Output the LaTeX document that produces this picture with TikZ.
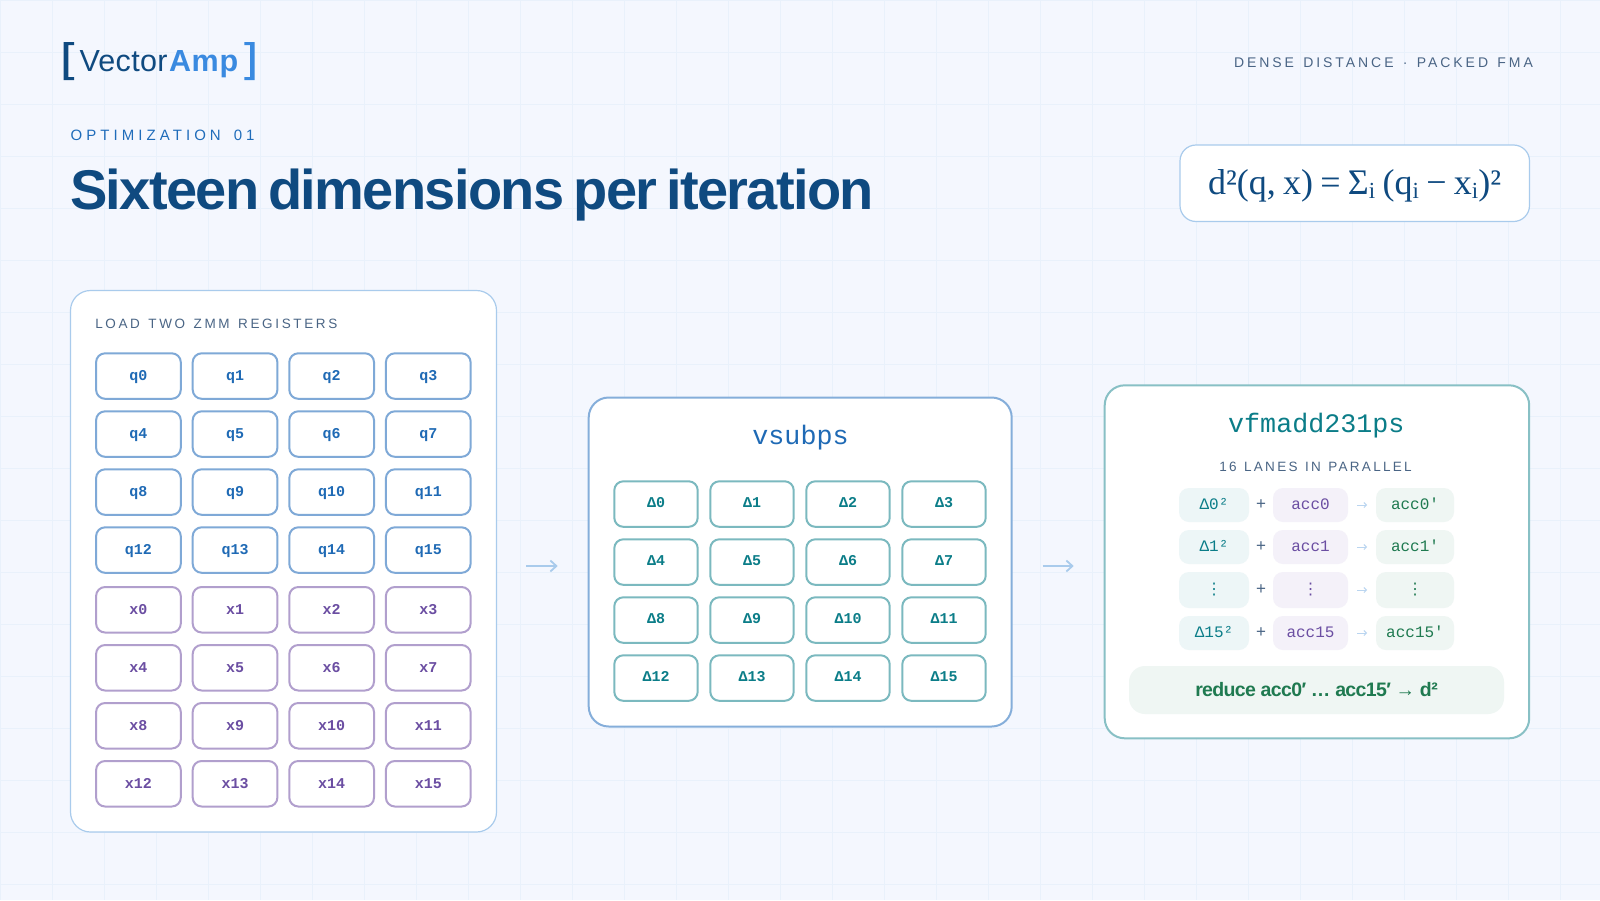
\documentclass[tikz,border=0pt]{standalone}
\usepackage{fontspec}
\usetikzlibrary{arrows.meta,calc}
\setmainfont{Liberation Sans}
\setmonofont{Liberation Mono}
\newfontfamily\serifface{Liberation Serif}
\newfontfamily\dotface{DejaVu Sans}
\definecolor{bgc}{HTML}{F4F7FE}
\definecolor{gridc}{HTML}{E9F1FB}
\definecolor{navy}{HTML}{0F4A80}
\definecolor{azure}{HTML}{3A8AE0}
\definecolor{kicker}{HTML}{1F6CBA}
\definecolor{slate}{HTML}{4A6585}
\definecolor{qline}{HTML}{7FA9D7}
\definecolor{qtext}{HTML}{1F6AB5}
\definecolor{xline}{HTML}{B19FCD}
\definecolor{xtext}{HTML}{6B4EA2}
\definecolor{dline}{HTML}{7BB9BF}
\definecolor{dtext}{HTML}{0B7D88}
\definecolor{lightarrow}{HTML}{A9CBEC}
\definecolor{greent}{HTML}{1F7A50}
\definecolor{dfill}{HTML}{EDF6F7}
\definecolor{afill}{HTML}{F4F1F9}
\definecolor{gfill}{HTML}{EFF6F3}
\newcommand{\fs}[1]{\fontsize{#1}{#1}\selectfont}
\tikzset{
  x=1pt,y=-1pt,
  every node/.style={inner sep=0pt,outer sep=0pt},
  card/.style={draw,fill=white,rounded corners=20pt,anchor=north west},
  cell/.style={draw=#1,line width=2pt,fill=white,rounded corners=9pt,minimum width=84.7pt,minimum height=45.5pt,anchor=north west,text height=11.6pt,text depth=3pt,font=\ttfamily\bfseries\fs{15}},
  pill/.style={fill=#1,rounded corners=10pt,anchor=north west,text height=10.6pt,text depth=2.4pt,font=\ttfamily\fs{16}},
  bigarrow/.style={draw=lightarrow,line width=1.8pt,-{Straight Barb[length=6pt,width=11pt,line width=1.8pt]}},
  smallarrow/.style={draw=lightarrow!80,line width=0.9pt,shorten >=9pt,shorten <=9pt,-{Straight Barb[length=2.5pt,width=5pt,line width=0.9pt]}},
  caps/.style={anchor=base west,text=slate,font=\fs{14}},
}
\begin{document}
\begin{tikzpicture}
\useasboundingbox (0,0) rectangle (1600,900);
\fill[bgc] (0,0) rectangle (1600,900);
\foreach \i in {0,...,30} \fill[gridc] ({52*\i},0) rectangle ({52*\i+1},900);
\foreach \j in {0,...,17} \fill[gridc] (0,{52*\j}) rectangle (1600,{52*\j+1});
% logo
\fill[navy] (74,42) -- (63.7,42) -- (63.7,80) -- (74,80) -- (74,77) -- (68.4,77) -- (68.4,45) -- (74,45) -- cycle;
\fill[azure] (244.4,42) -- (254.7,42) -- (254.7,80) -- (244.4,80) -- (244.4,77) -- (250,77) -- (250,45) -- (244.4,45) -- cycle;
\node[anchor=base west,text=navy,font=\fs{30.5}] (logoa) at (79.5,71) {\addfontfeatures{LetterSpace=1}Vector};
\node[anchor=base west,text=azure,font=\bfseries\fs{30.5}] (logob) at (169,71) {\addfontfeatures{LetterSpace=2.3}Amp};
% header
\node[caps,text=slate] (tag) at (1234,67.2) {\addfontfeatures{LetterSpace=21}\spaceskip=9.3pt DENSE DISTANCE · PACKED FMA};
\node[anchor=base west,text=kicker,font=\fs{15}] (kick) at (70.7,140) {\addfontfeatures{LetterSpace=27}\spaceskip=13pt OPTIMIZATION 01};
\node[anchor=base west,text=navy,font=\bfseries\fs{56}] (title) at (70,209) {\addfontfeatures{LetterSpace=-2.95}\spaceskip=9pt Sixteen dimensions per iteration};
% formula
\node[draw=lightarrow,line width=1.2pt,fill=white,rounded corners=16pt,anchor=north west,minimum width=349.5pt,minimum height=76.5pt] (formula) at (1180,145) {};
\node[anchor=base west,text=navy,font=\serifface\fs{36}] (formtext) at (1208,194) {\spaceskip=7.3pt d²(q, x) = Σ\raisebox{-0.13em}{\fs{23}i} (q\raisebox{-0.13em}{\fs{23}i} − x\raisebox{-0.13em}{\fs{23}i})²};
% cards
\node[card,draw=lightarrow,line width=1.2pt,minimum width=426pt,minimum height=541.5pt] (card1) at (70.5,290.5) {};
\node[card,draw=qline!85!lightarrow,line width=2pt,minimum width=423pt,minimum height=329pt] (card2) at (588.7,397.5) {};
\node[card,draw=dline!90,line width=2pt,minimum width=424.5pt,minimum height=353pt] (card3) at (1104.7,385.3) {};
% card 1
\node[caps,font=\fs{13.5}] (lab1) at (95.3,328.5) {\addfontfeatures{LetterSpace=19.5}\spaceskip=8.5pt LOAD TWO ZMM REGISTERS};
\foreach \n in {0,...,15}{
  \pgfmathtruncatemacro{\c}{mod(\n,4)}
  \pgfmathtruncatemacro{\r}{int(\n/4)}
  \pgfmathsetmacro{\px}{96.1+96.6*\c}
  \pgfmathsetmacro{\py}{353.3+58*\r}
  \pgfmathsetmacro{\pz}{587+58*\r}
  \node[cell=qline,text=qtext] (q\n) at (\px,\py) {q\n};
  \node[cell=xline,text=xtext] (x\n) at (\px,\pz) {x\n};
  \pgfmathsetmacro{\dx}{614.3+96*\c}
  \pgfmathsetmacro{\dy}{481.3+58*\r}
  \node[cell=dline,text=dtext,minimum width=83.4pt,text height=10pt,text depth=3pt] (d\n) at (\dx,\dy) {Δ\n};
}
% card titles
\node[anchor=base,text=qtext,font=\ttfamily\fs{26.7}] (vsub) at (800.5,444) {vsubps};
\node[anchor=base,text=dtext,font=\ttfamily\fs{26.7}] (vfm) at (1316.3,432) {vfmadd231ps};
\node[caps,anchor=base,font=\fs{13.5}] (lanes) at (1315.5,471.5) {\addfontfeatures{LetterSpace=17}\spaceskip=7.5pt 16 LANES IN PARALLEL};
% lanes
\foreach \k/\ty/\hh/\da/\ab/\ac in {
  a/488/34/Δ0²/acc0/acc0',
  b/530/34/Δ1²/acc1/acc1',
  c/572/36/{\dotface ⋮}/{\dotface ⋮}/{\dotface ⋮},
  e/616/34/Δ15²/acc15/acc15'}{
  \node[pill=dfill,text=dtext,minimum width=70pt,minimum height=\hh pt] (l\k) at (1179,\ty) {\da};
  \node[pill=afill,text=xtext,minimum width=75pt,minimum height=\hh pt] (m\k) at (1273,\ty) {\ab};
  \node[pill=gfill,text=greent,minimum width=78pt,minimum height=\hh pt] (r\k) at (1376,\ty) {\ac};
  \node[text=slate,font=\fs{17},text height=11pt,text depth=2.4pt] (p\k) at ($(l\k.east)!0.5!(m\k.west)$) {+};
  \draw[smallarrow] (m\k.east) -- (r\k.west);
}
% reduce
\node[fill=gfill,rounded corners=16pt,anchor=north west,minimum width=375pt,minimum height=48pt,text=greent,text height=14pt,text depth=2pt,font=\bfseries\fs{19.5}] (reduce) at (1129,666) {\addfontfeatures{LetterSpace=-3.3}reduce acc0′ … acc15′ → d²};
% big arrows
\coordinate (arrA) at (542,566);
\coordinate (arrB) at (1058,566);
\draw[bigarrow,shorten <=29.5pt,shorten >=31pt] (arrA-|card1.east) -- (arrA-|card2.west);
\draw[bigarrow,shorten <=31pt,shorten >=31pt] (arrB-|card2.east) -- (arrB-|card3.west);
\end{tikzpicture}
\end{document}
